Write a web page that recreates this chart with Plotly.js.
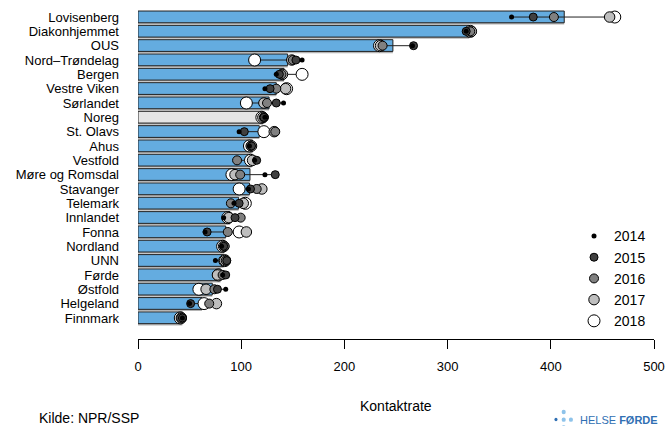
<!DOCTYPE html>
<html>
<head>
<meta charset="utf-8">
<script src="https://cdn.plot.ly/plotly-3.0.1.min.js"></script>
<style>html,body{margin:0;padding:0;background:#fff;}#chart{width:667px;height:426px;}</style>
</head>
<body>
<div id="chart"></div>
<script>
const categories = ['Lovisenberg','Diakonhjemmet','OUS','Nord\u2013Trøndelag','Bergen','Vestre Viken','Sørlandet','Noreg','St. Olavs','Ahus','Vestfold','Møre og Romsdal','Stavanger','Telemark','Innlandet','Fonna','Nordland','UNN','Førde','Østfold','Helgeland','Finnmark'];
const barValues = [413, 321, 247, 145, 141.5, 134, 127, 121, 117.5, 111, 110, 108.5, 108, 97.5, 89, 85, 83.5, 83, 80, 72, 62, 43];
const highlight = 'Noreg';
const years = ['2014','2015','2016','2017','2018'];
const v2014 = [362, 318, 266, 159, 134, 123, 141, 123, 98, 108, 113, 123, 107, 93, 83, 65, 81, 75, 82, 85, 50, 43];
const v2015 = [383, 318, 267, 153, 137, 128, 134, 122, 103, 110, 115, 133, 109, 98, 94, 67, 83, 86, 85, 77, 51, 43];
const v2016 = [403, 322, 237, 150, 139, 134, 125, 122, 133, 109, 96, 99, 115, 90, 99.5, 87, 84, 85, 82, 74, 69, 42];
const v2017 = [457, 323, 235, 149, 140, 143, 122, 121, 132, 110, 111, 94, 120, 102, 88, 105, 83, 84, 77, 66, 76, 42];
const v2018 = [462, 322, 234, 113, 159, 144, 105, 120, 122, 108, 109, 91, 98, 104, 87, 98, 82, 84, 78, 59, 64, 41];
const yearValues = [v2014, v2015, v2016, v2017, v2018];
const yearColors = ['#000000', '#404040', '#808080', '#bebebe', '#ffffff'];
const yearSizes = [5, 8, 9, 10.5, 12];

const BLUE = '#64ace0';
const barColors = categories.map(c => c === highlight ? '#e5e5e5' : BLUE);

const traces = [];
// shadow bars
traces.push({
  type: 'bar', orientation: 'h', x: barValues, y: categories,
  width: 0.82, offset: -0.30,
  marker: {color: '#b4b4b4', line: {width: 0}},
  showlegend: false, hoverinfo: 'skip'
});
// main bars
traces.push({
  type: 'bar', orientation: 'h', x: barValues, y: categories,
  width: 0.82, offset: -0.42,
  marker: {color: barColors, line: {color: '#222222', width: 1}},
  showlegend: false
});
// range segments (min to max of the yearly points)
const segX = [], segY = [];
categories.forEach((c, i) => {
  const vals = yearValues.map(a => a[i]);
  segX.push(Math.min(...vals), Math.max(...vals), null);
  segY.push(c, c, null);
});
traces.push({
  type: 'scatter', mode: 'lines', x: segX, y: segY,
  line: {color: '#222222', width: 1}, showlegend: false, hoverinfo: 'skip'
});
// yearly points: draw 2018 first, 2014 last (on top)
for (let k = years.length - 1; k >= 0; k--) {
  traces.push({
    type: 'scatter', mode: 'markers', name: years[k],
    x: yearValues[k], y: categories,
    marker: {color: yearColors[k], size: yearSizes[k], line: {color: '#000000', width: k === 0 ? 0 : 1}}
  });
}

const layout = {
  width: 667, height: 426,
  margin: {l: 138, r: 13, t: 5, b: 87},
  paper_bgcolor: '#ffffff', plot_bgcolor: '#ffffff',
  font: {family: 'Liberation Sans, Arial, sans-serif', size: 14, color: '#000000'},
  barmode: 'overlay',
  showlegend: true,
  legend: {
    x: 0.845, y: 0.355, xanchor: 'left', yanchor: 'top',
    traceorder: 'reversed', itemsizing: 'trace',
    font: {size: 14}, bgcolor: 'rgba(0,0,0,0)', tracegroupgap: 0
  },
  xaxis: {
    range: [0, 500], tickvals: [0, 100, 200, 300, 400, 500],
    showgrid: false, zeroline: false, showline: true, linecolor: '#000', linewidth: 1,
    ticks: 'outside', ticklen: 9, tickcolor: '#000', tickwidth: 1,
    ticklabelstandoff: 6, tickfont: {size: 13}
  },
  yaxis: {
    type: 'category', categoryorder: 'array', categoryarray: categories,
    tickmode: 'array', tickvals: categories, ticktext: categories,
    range: [22.47, -0.84], showgrid: false, zeroline: false, showline: false,
    ticks: '', ticklabelstandoff: 18, tickfont: {size: 13}
  },
  annotations: [
    {text: 'Kontaktrate', xref: 'paper', yref: 'paper', x: 0.5, y: -0.2, xanchor: 'center', yanchor: 'middle', showarrow: false, font: {size: 14}},
    {text: 'Kilde: NPR/SSP', xref: 'paper', yref: 'paper', x: -0.196, y: -0.236, xanchor: 'left', yanchor: 'middle', showarrow: false, font: {size: 14}},
    {text: 'HELSE <b>FØRDE</b>', xref: 'paper', yref: 'paper', x: 0.853, y: -0.242, xanchor: 'left', yanchor: 'middle', showarrow: false, font: {size: 11, color: '#2f6fb3'}}
  ],
  shapes: [
    {type: 'circle', xref: 'paper', yref: 'paper', x0: 0.807, x1: 0.813, y0: -0.236, y1: -0.246, fillcolor: '#2f6fb3', line: {width: 0}},
    {type: 'circle', xref: 'paper', yref: 'paper', x0: 0.821, x1: 0.829, y0: -0.235, y1: -0.248, fillcolor: '#8ec3ea', line: {width: 0}},
    {type: 'circle', xref: 'paper', yref: 'paper', x0: 0.835, x1: 0.843, y0: -0.235, y1: -0.248, fillcolor: '#8ec3ea', line: {width: 0}},
    {type: 'circle', xref: 'paper', yref: 'paper', x0: 0.821, x1: 0.829, y0: -0.212, y1: -0.225, fillcolor: '#8ec3ea', line: {width: 0}},
    {type: 'circle', xref: 'paper', yref: 'paper', x0: 0.821, x1: 0.829, y0: -0.258, y1: -0.271, fillcolor: '#8ec3ea', line: {width: 0}}
  ]
};

Plotly.newPlot('chart', traces, layout, {displayModeBar: false, staticPlot: true});
</script>
</body>
</html>
